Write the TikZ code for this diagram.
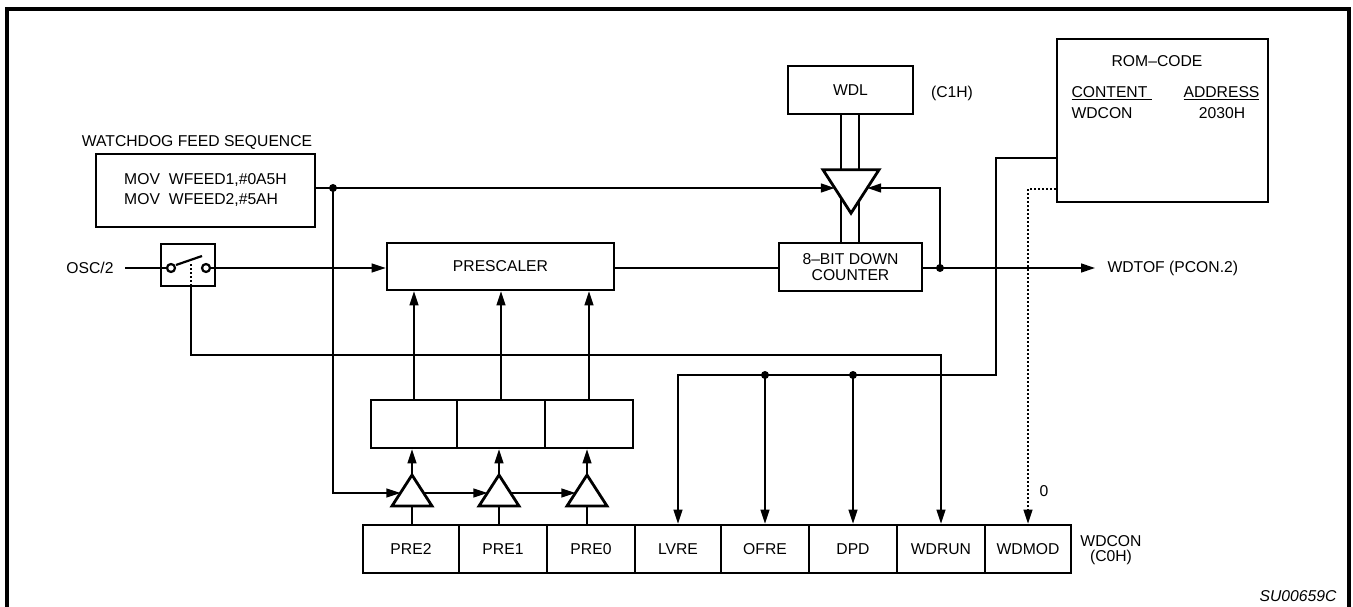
\documentclass[tikz,border=0pt]{standalone}
\usepackage{fontspec}
\setmainfont{Liberation Sans}
\usetikzlibrary{arrows.meta}

\begin{document}
\begin{tikzpicture}[
    x=1pt, y=-1pt,
    font=\fontsize{15.7}{15}\selectfont,
    box/.style={draw, line width=2.8pt, inner sep=0pt},
    wire/.style={line width=1.3pt},
    arr/.style={wire, -{Triangle[length=14pt,width=9pt]}},
    dot/.style={circle, fill, inner sep=0pt, minimum size=8pt},
    buf/.pic={
        \draw[line width=2.8pt, fill=white] (0,-15.5) -- (20,15.5) -- (-20,15.5) -- cycle;
        \coordinate (-top) at (0,-15.5);
        \coordinate (-bot) at (0,15.5);
        \coordinate (-l) at (-11.6,2.5);
        \coordinate (-r) at (11.6,2.5);
    }
]
\useasboundingbox (0,0) rectangle (1353,607);
\draw[line width=3.2pt] (7,607) |- (1349,9) -- (1349,607);

% feed sequence, switch, prescaler, counter
\node[box, minimum width=219pt, minimum height=73pt, align=left,
      font=\fontsize{15.7}{20}\selectfont] (feed) at (205.5,190.5)
      {MOV\hspace{9pt}WFEED1,\#0A5H\\MOV\hspace{9pt}WFEED2,\#5AH};
\node (feedlbl) at (197,143) {WATCHDOG FEED SEQUENCE};
\node (osc) at (90,268) {OSC/2};
\node[box, minimum width=54pt, minimum height=42pt] (sw) at (188,265) {};
\begin{scope}[shift={(sw.center)}, line width=2.2pt]
    \draw (-12,0) -- (14,-9);
    \draw[fill=white] (-17,3) circle (4pt) (18,3) circle (4pt);
    \draw[dash pattern=on 2pt off 2pt] (3,-1) -- (3,21);
    \coordinate (swa) at (-21,3);
    \coordinate (swb) at (22,3);
    \coordinate (swd) at (3,21);
\end{scope}
\node[box, minimum width=227pt, minimum height=47pt] (pre) at (500.5,266.5) {PRESCALER};
\node[box, minimum width=143pt, minimum height=48pt, align=center,
      font=\fontsize{15.7}{16}\selectfont] (cnt) at (850.5,267) {8–BIT DOWN\\COUNTER};
\node[box, minimum width=125pt, minimum height=48pt] (wdl) at (850.5,90) {WDL};
\node (c1h) at (952,93) {(C1H)};
\node[anchor=west] (wdtof) at (1104,268) {WDTOF (PCON.2)};

% ROM code
\node[box, minimum width=211pt, minimum height=163pt] (rom) at (1162.5,120.5) {};
\node (romt) at (1157,61) {ROM–CODE};
\node[anchor=base west] (cont) at (1068,97.5) {\underline{CONTENT\hspace{5pt}}};
\node[anchor=base east] (addr) at (1263,97.5) {\underline{ADDRESS}};
\node[anchor=base west] (romw) at (1068,118.5) {WDCON};
\node[anchor=base] (roma) at (1222,118.5) {2030H};

% WDCON register and latches
\foreach \n/\t/\c/\w in {pre2/PRE2/411/96, pre1/PRE1/503/88, pre0/PRE0/591/88,
    lvre/LVRE/678/86, ofre/OFRE/765/88, dpd/DPD/853/88, wdrun/WDRUN/941/88,
    wdmod/WDMOD/1028/86}
    \node[box, minimum width=\w pt, minimum height=48pt] (\n) at (\c,549) {\t};
\node[align=center] (wdcon) at (1111,550) {WDCON\\(C0H)};
\foreach \n/\c/\w in {b2/414/86, b1/501/88, b0/589/88}
    \node[box, minimum width=\w pt, minimum height=48pt] (\n) at (\c,424) {};
\node[anchor=base east, font=\fontsize{15.7}{15}\selectfont\itshape] (code) at (1340,601.5) {SU00659C};

% WDL load buffer
\draw[wire] ([xshift=-9.5pt]wdl.south) -- ([xshift=-9.5pt]cnt.north);
\draw[wire] ([xshift=8.5pt]wdl.south) -- ([xshift=8.5pt]cnt.north);
\pic[rotate=180, scale=1.4] (big) at (851,191.5) {buf};
\pic (t2) at (412,490.5) {buf};
\pic (t1) at (499,490.5) {buf};
\pic (t0) at (587,490.5) {buf};

% connectors
\node[dot] (fdot) at (333,188) {};
\node[dot] (cdot) at (940,268) {};
\draw[arr] (feed.east |- big-r) -- (big-r);
\draw[arr] (fdot.center) -- (fdot.center |- t2-l) -- (t2-l);
\draw[arr] (t2-r) -- (t1-l);
\draw[arr] (t1-r) -- (t0-l);
\draw[wire] ([xshift=8pt]osc.east) -- (swa);
\draw[arr] (swb) -- (swb -| pre.west);
\draw[wire] (pre.east |- swb) -- (cnt.west |- swb);
\draw[arr] (cnt.east |- swb) -- ([xshift=-9pt]wdtof.west);
\draw[arr] (cdot.center) -- (cdot.center |- big-l) -- (big-l);
\foreach \t/\b in {t2/b2, t1/b1, t0/b0} {
    \draw[arr] (\t-top) -- (\t-top |- \b.south);
    \draw[wire] (\t-bot) -- (\t-bot |- pre2.north);
    \draw[arr] (\b.north) -- (\b.north |- pre.south);
}
\draw[arr] (swd) -- (swd |- 0,355) -| (wdrun.north);
\draw[arr] (rom.west |- 0,158) -| (996,375) -| (lvre.north);
\foreach \n in {ofre, dpd} {
    \node[dot] at (\n |- 0,375) {};
    \draw[arr] (\n |- 0,375) -- (\n.north);
}
\draw[arr, dash pattern=on 1.2pt off 2.8pt] (rom.west |- 0,189) -| (wdmod.north);
\node (zero) at (1044,491) {0};
\end{tikzpicture}
\end{document}
